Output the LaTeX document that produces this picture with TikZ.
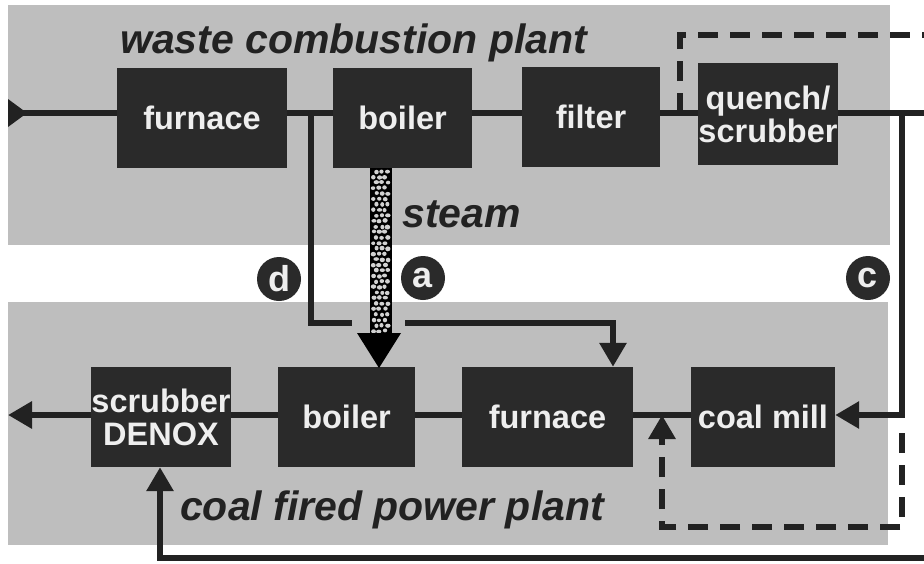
\documentclass[tikz,border=0pt]{standalone}
\usepackage{fontspec}
\setmainfont{Liberation Sans}
\usetikzlibrary{arrows.meta,calc}
\definecolor{panel}{HTML}{BEBEBE}
\definecolor{boxc}{HTML}{2A2A2A}
\definecolor{ink}{HTML}{222222}
\definecolor{labc}{HTML}{EEEEEE}
\tikzset{
  unit box/.style={fill=boxc, draw=none, inner sep=0pt, text=labc,
    font=\bfseries\fontsize{32.5}{33}\selectfont, align=center},
  title text/.style={inner sep=0pt, anchor=base west, text=ink,
    font=\bfseries\itshape\fontsize{41}{44}\selectfont},
  flow/.style={draw=ink, line width=6pt},
  flowarrow/.style={flow, -{Triangle[length=24pt,width=26pt]}},
  dashflow/.style={draw=ink, line width=6pt, dash pattern=on 20pt off 12pt},
  badge/.style={circle, fill=boxc, draw=none, minimum size=44pt, inner sep=0pt,
    text=labc, font=\bfseries\fontsize{36}{36}\selectfont},
}
\begin{document}
\begin{tikzpicture}[x=1pt,y=-1pt]
\useasboundingbox (0,0) rectangle (924,563);
\fill[white] (0,0) rectangle (924,563);
% panels
\fill[panel] (8,5) rectangle (890,245);
\fill[panel] (8,302) rectangle (888,545);
% levels
\coordinate (top) at (0,113);
\coordinate (bot) at (0,415);
% top boxes
\node[unit box, minimum width=170pt, minimum height=100pt] (furn1) at (202,118) {furnace};
\node[unit box, minimum width=139pt, minimum height=100pt] (boil1) at (402.5,118) {boiler};
\node[unit box, minimum width=138pt, minimum height=100pt] (filt) at (591,117) {filter};
\node[unit box, minimum width=138pt, minimum height=102pt] (quen) at (768,114) {quench/\\scrubber};
% bottom boxes
\node[unit box, minimum width=138pt, minimum height=100pt] (scrub) at (161,417) {scrubber\\DENOX};
\node[unit box, minimum width=137pt, minimum height=100pt] (boil2) at (346.5,417) {boiler};
\node[unit box, minimum width=171pt, minimum height=100pt] (furn2) at (547.5,417) {furnace};
\node[unit box, minimum width=144pt, minimum height=100pt] (mill) at (763,417) {coal mill};
% titles
\node[title text] (t1) at (120,53) {waste combustion plant};
\node[title text] (t2) at (180,520) {coal fired power plant};
\node[title text] (t3) at (402,227) {steam};
% named free ends
\coordinate (inL) at (8,113);
\coordinate (outR) at (924,113);
\coordinate (cx) at (902,113);
\coordinate (cy) at (902,415);
\coordinate (outL) at (8,415);
\coordinate (dTop) at (311,113);
\coordinate (dC) at (311,323);
\coordinate (dG1) at (352,323);
\coordinate (dG2) at (405,323);
\coordinate (dE) at (613,323);
\coordinate (bR) at (924,558);
\coordinate (bL) at (160,558);
\coordinate (q1) at (680,113);
\coordinate (q2) at (680,35);
\coordinate (q3) at (924,35);
\coordinate (m1) at (902,433);
\coordinate (m2) at (902,527);
\coordinate (m3) at (662,527);
\coordinate (m4) at (662,415);
% top flow
\draw[flow] (inL) -- (furn1.west |- top);
\fill[ink] (8,99) -- (8,127) -- (27,113) -- cycle;
\draw[flow] (furn1.east |- top) -- (boil1.west |- top);
\draw[flow] (boil1.east |- top) -- (filt.west |- top);
\draw[flow] (filt.east |- top) -- (quen.west |- top);
\draw[flow] (quen.east |- top) -- (outR);
\draw[flowarrow] (cx) -- (cy) -- (mill.east |- bot);
% bottom flow
\draw[flow] (mill.west |- bot) -- (furn2.east |- bot);
\draw[flow] (furn2.west |- bot) -- (boil2.east |- bot);
\draw[flow] (boil2.west |- bot) -- (scrub.east |- bot);
\draw[flowarrow] (scrub.west |- bot) -- (outL);
\draw[flowarrow] (bR) -- (bL) -- (scrub.south -| bL);
% d line
\draw[flow] (dTop) -- (dC) -- (dG1);
\draw[flowarrow] (dG2) -- (dE) -- (furn2.north -| dE);
% dashed
\draw[dashflow] (q1) -- (q2) -- (q3);
\draw[dashflow] (m1) -- (m2) -- (m3) -- ($(m4)+(0,24)$);
\draw[flowarrow] ($(m4)+(0,24)$) -- (m4);
% steam pipe
\fill[black] (370,168) rectangle (392,333);
\pgfmathsetseed{11}
\foreach \yy [count=\i] in {171.5,177,...,331}{
  \pgfmathsetmacro\off{mod(\i,2)*2.8}
  \foreach \xx in {373.5,379.2,384.9}{
    \pgfmathsetmacro\dx{rnd*1.2-0.6+\off}
    \pgfmathsetmacro\dy{rnd*1.2-0.6}
    \pgfmathsetmacro\rx{2.0+rnd*0.8}
    \pgfmathsetmacro\ry{1.8+rnd*0.7}
    \fill[gray!35] (\xx+\dx,\yy+\dy) ellipse[x radius=\rx pt, y radius=\ry pt];
  }
}
\fill[black] (357,333) -- (401,333) -- (379,368) -- cycle;
% badges
\node[badge] (bd) at (279,279) {d};
\node[badge] (ba) at (423,278) {a};
\node[badge] (bc) at (868,278) {c};
\end{tikzpicture}
\end{document}
